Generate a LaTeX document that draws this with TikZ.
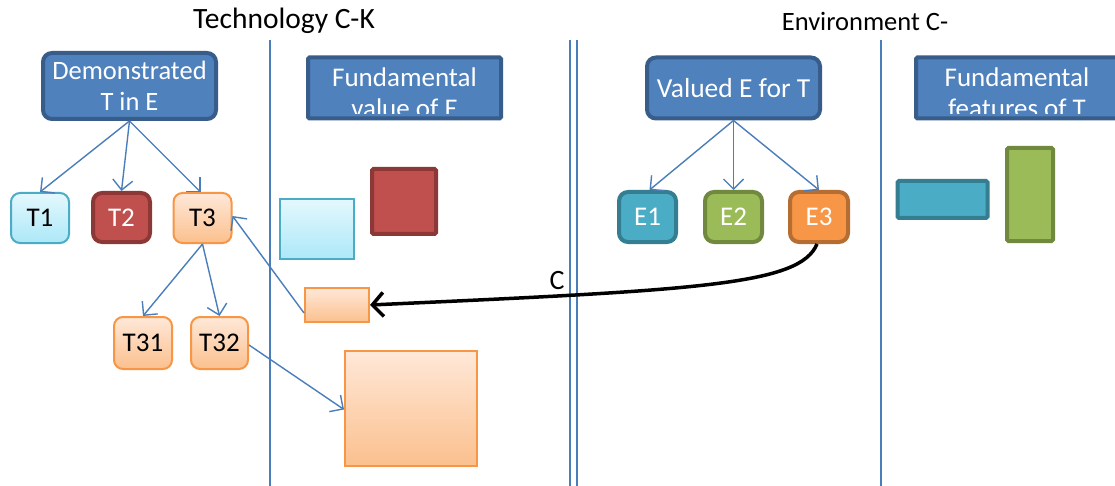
\documentclass[tikz,border=0pt]{standalone}
\usepackage{fontspec}
\setmainfont{Carlito}
\usetikzlibrary{arrows.meta}
\definecolor{bluefill}{HTML}{4F81BD}
\definecolor{blueedge}{HTML}{385D8A}
\definecolor{linkblue}{HTML}{4A7EBB}
\definecolor{redfill}{HTML}{C0504D}
\definecolor{rededge}{HTML}{8C3836}
\definecolor{aquafill}{HTML}{4BACC6}
\definecolor{aquaedge}{HTML}{357D91}
\definecolor{greenfill}{HTML}{9BBB59}
\definecolor{greenedge}{HTML}{71893F}
\definecolor{orangefill}{HTML}{F79646}
\definecolor{orangeedge}{HTML}{B66D31}
\definecolor{peachtop}{HTML}{FFE8D8}
\definecolor{peachbot}{HTML}{FBC08E}
\definecolor{cyantop}{HTML}{E4F8FD}
\definecolor{cyanbot}{HTML}{ACE8F8}
\tikzset{
  headbox/.style={draw=blueedge, line width=4pt, fill=bluefill, rounded corners=9pt, text=white, font=\fontsize{26.5}{31}\selectfont, align=center, inner sep=0pt},
  fundbox/.style={draw=blueedge, line width=4pt, fill=bluefill, rounded corners=1.5pt, inner sep=0pt},
  fundtext/.style={text=white, font=\fontsize{27}{31}\selectfont, align=center, inner sep=0pt},
  peach/.style={draw=orangefill, line width=2pt, top color=peachtop, bottom color=peachbot},
  cyanlt/.style={draw=aquafill, line width=2pt, top color=cyantop, bottom color=cyanbot},
  leaf/.style={rounded corners=9pt, font=\fontsize{27}{31}\selectfont, inner sep=0pt, minimum width=#1},
  leaf/.default=58pt,
  link/.style={draw=linkblue, line width=1.4pt, -{Straight Barb[length=10pt,width=20pt,line width=1.4pt]}},
  vline/.style={draw=linkblue, line width=1.3pt},
}
\begin{document}
\begin{tikzpicture}[x=1pt,y=-1pt]
\clip (0,0) rectangle (1115,486);
\fill[white] (0,0) rectangle (1115,486);

% titles
\node[font=\fontsize{29.5}{34}\selectfont, inner sep=0pt] (t1) at (284,21) {Technology C-K};
\node[font=\fontsize{26.5}{31}\selectfont, inner sep=0pt] (t2) at (865,21) {Environment C-};

% vertical lines
\coordinate (v1a) at (270,40); \coordinate (v1b) at (270,486);
\coordinate (v2a) at (570,40); \coordinate (v2b) at (570,486);
\coordinate (v3a) at (577,40); \coordinate (v3b) at (577,486);
\coordinate (v4a) at (881,40); \coordinate (v4b) at (881,486);
\draw[vline] (v1a) -- (v1b);
\draw[vline] (v2a) -- (v2b);
\draw[vline] (v3a) -- (v3b);
\draw[vline] (v4a) -- (v4b);

% head boxes
\node[headbox, minimum width=173pt, minimum height=66pt] (demo) at (129.5,86) {Demonstrated\\T in E};
\node[headbox, minimum width=173pt, minimum height=61pt, font=\fontsize{27.5}{31}\selectfont] (valued) at (733.5,88) {Valued E for T};

% fundamental boxes with clipped text
\node[fundbox, minimum width=193pt, minimum height=61pt] (fve) at (404.5,88) {};
\begin{scope}
\clip (308,57) rectangle (501,114);
\node[fundtext] (fvet) at (404.5,93) {Fundamental\\value of E};
\end{scope}
\node[fundbox, minimum width=220pt, minimum height=61pt] (fft) at (1026,88) {};
\begin{scope}
\clip (916,57) rectangle (1115,114);
\node[fundtext] (fftt) at (1017,93) {Fundamental\\features of T};
\end{scope}

% T leaves
\node[leaf, cyanlt, minimum height=50pt] (T1) at (40,218) {T1};
\node[leaf, draw=rededge, line width=4pt, fill=redfill, text=white, minimum width=57pt, minimum height=49pt] (T2) at (121.5,217.5) {T2};
\node[leaf, peach, minimum height=50pt] (T3) at (202.5,218) {T3};
\node[leaf, peach, minimum height=52pt] (T31) at (143,343) {T31};
\node[leaf, peach, minimum width=57pt, minimum height=52pt] (T32) at (219.5,343) {T32};

% middle shapes
\node[cyanlt, minimum width=74pt, minimum height=60pt, inner sep=0pt] (cr) at (317,229) {};
\node[draw=rededge, line width=4pt, fill=redfill, rounded corners=1.5pt, minimum width=64pt, minimum height=65pt, inner sep=0pt] (rs) at (404,201.5) {};
\node[peach, minimum width=64pt, minimum height=34pt, inner sep=0pt] (sp) at (337,305) {};
\node[peach, minimum width=132pt, minimum height=115pt, inner sep=0pt] (bp) at (411,408.5) {};

% E leaves
\node[leaf, draw=aquaedge, line width=4pt, fill=aquafill, text=white, minimum width=57pt, minimum height=50pt] (E1) at (647.5,217) {E1};
\node[leaf, draw=greenedge, line width=4pt, fill=greenfill, text=white, minimum width=57pt, minimum height=50pt] (E2) at (733.5,217) {E2};
\node[leaf, draw=orangeedge, line width=4pt, fill=orangefill, text=white, minimum width=58pt, minimum height=50pt] (E3) at (819,217) {E3};

% right shapes
\node[draw=aquaedge, line width=4pt, fill=aquafill, rounded corners=1.5pt, minimum width=90pt, minimum height=37pt, inner sep=0pt] (cyr) at (942.5,199.5) {};
\node[draw=greenedge, line width=4pt, fill=greenfill, rounded corners=1.5pt, minimum width=46pt, minimum height=93pt, inner sep=0pt] (gr) at (1030,194.5) {};

% arrows
\draw[link] (demo.south) -- (T1.north);
\draw[link] (demo.south) -- (T2.north);
\draw[link] (demo.south) -- ([xshift=-2pt]T3.north);
\draw[link] (T3.south) -- (T31.north);
\draw[link] (T3.south) -- (T32.north);
\draw[link] ([yshift=-8pt]sp.west) -- ([yshift=2pt]T3.east);
\draw[link] ([yshift=-2pt]T32.east) -- ([yshift=-1pt]bp.west);
\draw[link] (valued.south) -- ([xshift=2pt]E1.north);
\draw[link] (valued.south) -- (E2.north);
\draw[link] (valued.south) -- (E3.north);

% black connector
\draw[line width=3.5pt, -{Straight Barb[length=11pt,width=24pt,line width=3.5pt]}] ([xshift=-2pt]E3.south) .. controls (800,285) and (700,290) .. (sp.east);
\node[font=\fontsize{28}{32}\selectfont, inner sep=0pt] (clab) at (557,281) {C};
\end{tikzpicture}
\end{document}
